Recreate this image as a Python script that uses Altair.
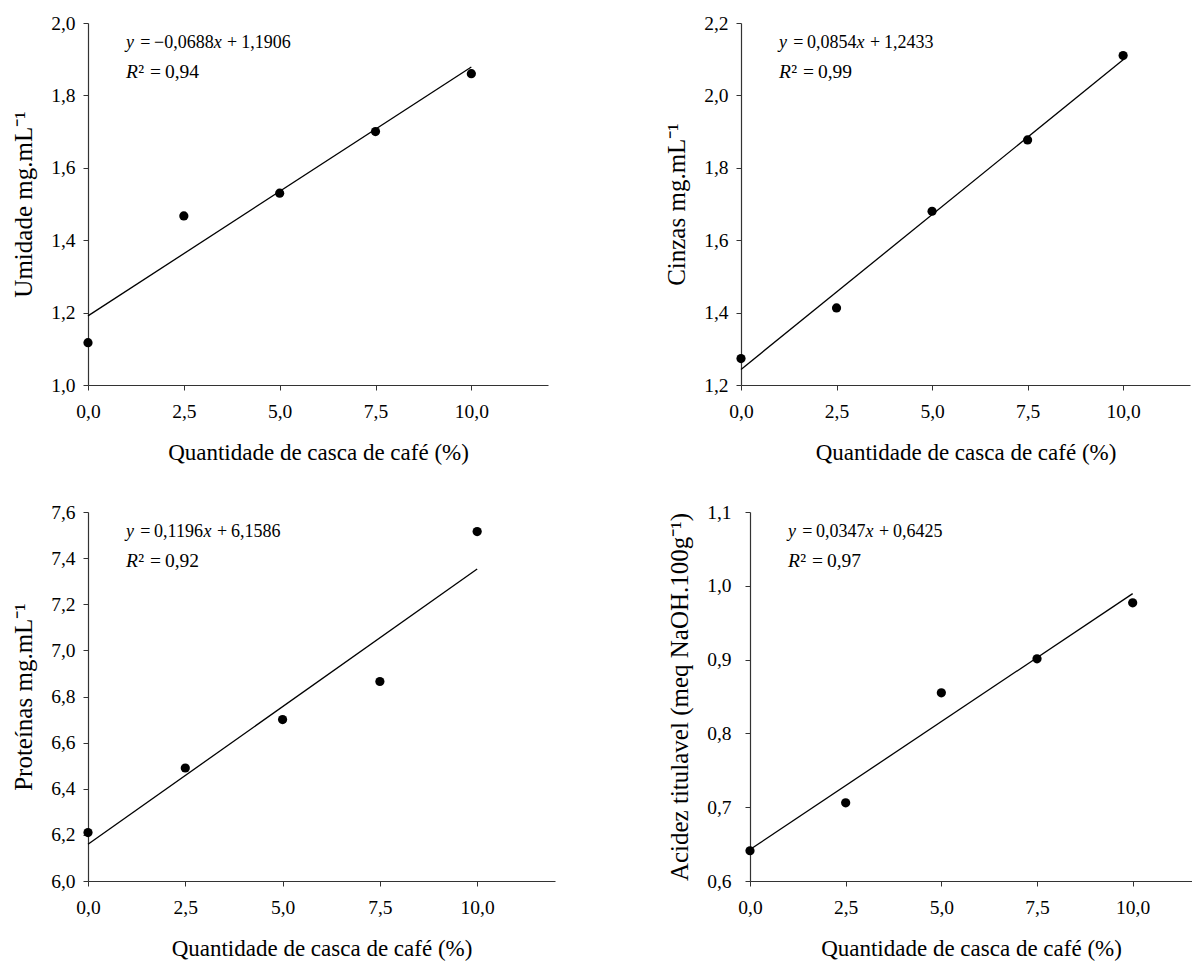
import altair as alt
import pandas as pd

# ---- data ----
x_pct = [0.0, 2.5, 5.0, 7.5, 10.0]
umidade = [1.117, 1.467, 1.530, 1.700, 1.860]
cinzas = [1.273, 1.413, 1.680, 1.877, 2.110]
proteinas = [6.210, 6.490, 6.700, 6.865, 7.515]
acidez = [0.641, 0.706, 0.855, 0.901, 0.977]

y_titles = ["Umidade mg.mL⁻¹", "Cinzas mg.mL⁻¹", "Proteínas mg.mL⁻¹",
            "Acidez titulavel (meq NaOH.100g⁻¹)"]
x_title = "Quantidade de casca de café (%)"
eq_coef = ["−0,0688", "0,0854", "0,1196", "0,0347"]
eq_int = ["1,1906", "1,2433", "6,1586", "0,6425"]
r2_vals = ["0,94", "0,99", "0,92", "0,97"]
x_ticks = [0.0, 2.5, 5.0, 7.5, 10.0]
y_ticks = [
    [1.0, 1.2, 1.4, 1.6, 1.8, 2.0],
    [1.2, 1.4, 1.6, 1.8, 2.0, 2.2],
    [6.0, 6.2, 6.4, 6.6, 6.8, 7.0, 7.2, 7.4, 7.6],
    [0.6, 0.7, 0.8, 0.9, 1.0, 1.1],
]

FONT = "Liberation Serif"
EQ_SIZE = 18
R2_SIZE = 19.5
LABEL_EXPR = "replace(format(datum.value, '.1f'), '.', ',')"

# approximate Times-metric widths (em) for laying out the equation pieces
W = {",": .25, " ": .25, "=": .564, "+": .564, "−": .564,
     "y": .444, "x": .444, "R": .611, "²": .3}


def tw(s, size):
    return sum(W.get(c, .5) for c in s) * size


def txt(s, px, py, size, italic=False):
    return alt.Chart(pd.DataFrame({"t": [s]})).mark_text(
        align="left", baseline="middle", font=FONT, fontSize=size,
        fontStyle="italic" if italic else "normal", color="black"
    ).encode(text="t:N", x=alt.value(px), y=alt.value(py))


def tokens_row(toks, x0, py, size):
    out = []
    px = x0
    for s, it, gap in toks:
        out.append(txt(s, px, py, size, it))
        px += tw(s, size) + gap * size
    return out


def panel(i, vals, xmax, width, height, lab_pad, title_pad):
    df = pd.DataFrame({"x": x_pct, "y": vals})
    ydom = [y_ticks[i][0], y_ticks[i][-1]]
    xs = alt.Scale(domain=[0, xmax], nice=False, zero=False)
    ys = alt.Scale(domain=ydom, nice=False, zero=False)
    xaxis = alt.Axis(values=x_ticks, labelExpr=LABEL_EXPR, title=x_title,
                     labelPadding=12, titlePadding=21, titleFontSize=23,
                     labelFlush=False)
    yaxis = alt.Axis(values=y_ticks[i], labelExpr=LABEL_EXPR, title=y_titles[i],
                     labelPadding=lab_pad, titlePadding=title_pad, titleFontSize=25,
                     labelFlush=False)
    base = alt.Chart(df)
    line = base.transform_regression("x", "y").mark_line(
        color="black", strokeWidth=1.3).encode(
        x=alt.X("x:Q", scale=xs, axis=xaxis), y=alt.Y("y:Q", scale=ys, axis=yaxis))
    pts = base.mark_circle(size=85, color="black", opacity=1).encode(
        x=alt.X("x:Q", scale=xs), y=alt.Y("y:Q", scale=ys))
    x0, y1, y2 = 38, 20, 49
    eq = [("y", True, 0.35), ("=", False, 0.2), (eq_coef[i], False, 0.0),
          ("x", True, 0.3), ("+", False, 0.22), (eq_int[i], False, 0)]
    r2 = [("R", True, 0.02), ("²", False, 0.3), ("=", False, 0.2),
          (r2_vals[i], False, 0)]
    parts = tokens_row(eq, x0, y1, EQ_SIZE) + tokens_row(r2, x0, y2, R2_SIZE)
    return alt.layer(line, pts, *parts).properties(width=width, height=height)


p1 = panel(0, umidade, 12.0, 460, 362, 8, 14)
p2 = panel(1, cinzas, 11.75, 449, 362, 8, 14)
p3 = panel(2, proteinas, 12.0, 467, 369, 8, 14)
p4 = panel(3, acidez, 11.55, 442, 369, 14, 14)

top = alt.hconcat(p1, p2, spacing=116)
bottom = alt.hconcat(p3, p4, spacing=112)

chart = alt.vconcat(top, bottom, spacing=37).properties(
    padding={"left": 3, "top": 5, "right": 0, "bottom": 0}
).configure_view(stroke=None).configure_axis(
    labelFont=FONT, titleFont=FONT, labelFontSize=19.5, labelColor="black",
    titleColor="black", titleFontWeight="normal", domainColor="#333333",
    tickColor="#333333", tickSize=5, grid=False, domainWidth=1.2, tickWidth=1
).configure_text(font=FONT)

chart.save("out.html", embed_options={"renderer": "svg", "actions": False})
